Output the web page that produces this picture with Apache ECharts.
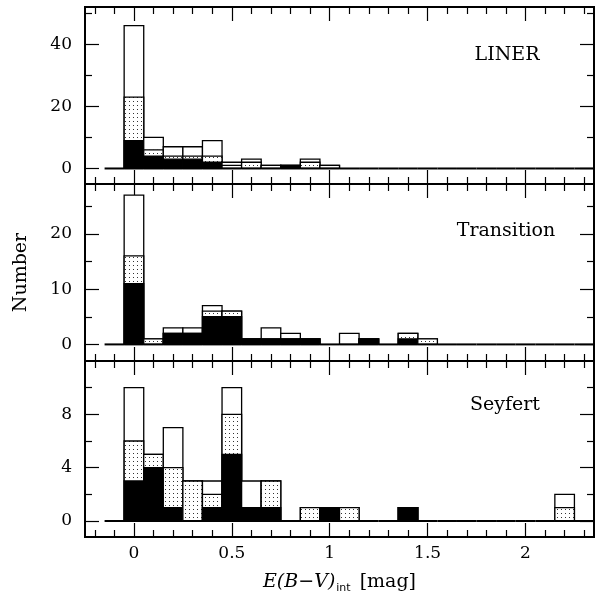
<!DOCTYPE html>
<html>
<head>
<meta charset="utf-8">
<script src="https://cdn.jsdelivr.net/npm/echarts@6/dist/echarts.min.js"></script>
<style>
html, body { margin: 0; padding: 0; background: #fff; }
#main { width: 602px; height: 601px; }
</style>
</head>
<body>
<div id="main"></div>
<script>
// bin centres, 0.1 mag wide
var binCentres = [-0.1, 0, 0.1, 0.2, 0.3, 0.4, 0.5, 0.6, 0.7, 0.8, 0.9, 1.0, 1.1, 1.2,
                  1.3, 1.4, 1.5, 1.6, 1.7, 1.8, 1.9, 2.0, 2.1, 2.2, 2.3];
var binWidth = 0.1;

// counts per bin: total (open), top of dotted part, black part
var linerTotal  = [0, 46, 10, 7, 7, 9, 2, 3, 1, 1, 3, 1, 0, 0, 0, 0, 0, 0, 0, 0, 0, 0, 0, 0, 0];
var linerDotted = [0, 23, 6, 4, 4, 4, 1, 2, 1, 1, 2, 1, 0, 0, 0, 0, 0, 0, 0, 0, 0, 0, 0, 0, 0];
var linerBlack  = [0, 9, 4, 3, 3, 2, 0, 0, 0, 1, 0, 0, 0, 0, 0, 0, 0, 0, 0, 0, 0, 0, 0, 0, 0];

var transTotal  = [0, 27, 1, 3, 3, 7, 6, 1, 3, 2, 1, 0, 2, 1, 0, 2, 1, 0, 0, 0, 0, 0, 0, 0, 0];
var transDotted = [0, 16, 1, 2, 2, 6, 6, 1, 1, 1, 1, 0, 0, 1, 0, 2, 1, 0, 0, 0, 0, 0, 0, 0, 0];
var transBlack  = [0, 11, 0, 2, 2, 5, 5, 1, 1, 1, 1, 0, 0, 1, 0, 1, 0, 0, 0, 0, 0, 0, 0, 0, 0];

var seyTotal  = [0, 10, 5, 7, 3, 3, 10, 3, 3, 0, 1, 1, 1, 0, 0, 1, 0, 0, 0, 0, 0, 0, 0, 2, 0];
var seyDotted = [0, 6, 5, 4, 3, 2, 8, 1, 3, 0, 1, 1, 1, 0, 0, 1, 0, 0, 0, 0, 0, 0, 0, 1, 0];
var seyBlack  = [0, 3, 4, 1, 0, 1, 5, 1, 1, 0, 0, 1, 0, 0, 0, 1, 0, 0, 0, 0, 0, 0, 0, 0, 0];

var panelNames = ['LINER', 'Transition', 'Seyfert'];

// ticks
var xMajor = [0, 0.5, 1, 1.5, 2];
var xMinor = [-0.2, -0.1, 0.1, 0.2, 0.3, 0.4, 0.6, 0.7, 0.8, 0.9, 1.1, 1.2, 1.3, 1.4,
              1.6, 1.7, 1.8, 1.9, 2.1, 2.2, 2.3];
var yMajor = [[0, 20, 40], [0, 10, 20], [0, 4, 8]];
var yMinor = [[10, 30, 50], [5, 15, 25], [2, 6, 10]];
var yRange = [[-5, 52], [-3, 29], [-1.2, 12]];

var panels = [
    [linerTotal, linerDotted, linerBlack],
    [transTotal, transDotted, transBlack],
    [seyTotal, seyDotted, seyBlack]
];

// layout
var plotLeft = 85, plotWidth = 509;
var panelTop = [7, 184, 361];
var panelHeight = [177, 177, 176];
var serif = 'DejaVu Serif';

var dotCanvas = document.createElement('canvas');
dotCanvas.width = 4;
dotCanvas.height = 4;
var dctx = dotCanvas.getContext('2d');
dctx.fillStyle = '#fff';
dctx.fillRect(0, 0, 4, 4);
dctx.fillStyle = '#333';
dctx.fillRect(1, 1, 1, 1);
var dotPattern = { image: dotCanvas, repeat: 'repeat' };

function renderBin(params, api) {
    var x = api.value(0), tot = api.value(1), dot = api.value(2), blk = api.value(3);
    var half = binWidth / 2;
    var p0 = api.coord([x - half, 0]);
    var p1 = api.coord([x + half, 0]);
    var kids = [];
    function box(v, fill) {
        var t = api.coord([x - half, v]);
        return {
            type: 'rect',
            shape: { x: p0[0], y: t[1], width: p1[0] - p0[0], height: p0[1] - t[1] },
            style: { fill: fill, stroke: '#000', lineWidth: 1.3 }
        };
    }
    if (tot > 0) kids.push(box(tot, '#fff'));
    if (dot > 0) kids.push(box(dot, dotPattern));
    if (blk > 0) kids.push(box(blk, '#000'));
    kids.push({
        type: 'line',
        shape: { x1: p0[0], y1: p0[1], x2: p1[0], y2: p0[1] },
        style: { stroke: '#000', lineWidth: 2 }
    });
    return { type: 'group', children: kids };
}

var grids = [], xAxes = [], yAxes = [], series = [], graphics = [];

for (var p = 0; p < 3; p++) {
    for (var k = 0; k < 2; k++) {
        var g = grids.length;
        grids.push({
            left: plotLeft, top: panelTop[p], width: plotWidth, height: panelHeight[p],
            show: k === 0, borderColor: '#000', borderWidth: 2,
            containLabel: false, outerBoundsMode: 'none'
        });
        ['bottom', 'top'].forEach(function (pos) {
            var ax = {
                type: 'value', gridIndex: g, position: pos,
                min: -0.25, max: 2.35,
                axisLine: { show: false, onZero: false },
                splitLine: { show: false },
                axisTick: {
                    show: true, inside: true, length: k === 0 ? 14 : 7,
                    customValues: k === 0 ? xMajor : xMinor,
                    lineStyle: { color: '#000', width: 1.2 }
                },
                axisLabel: {
                    show: p === 2 && k === 0 && pos === 'bottom',
                    customValues: xMajor, margin: 8,
                    color: '#000', fontFamily: serif, fontSize: 17
                }
            };
            if (p === 2 && k === 0 && pos === 'bottom') {
                ax.name = '{it|E(B\u2212V)}{sub|int}{rm| [mag]}';
                ax.nameLocation = 'middle';
                ax.nameGap = 33;
                ax.nameTextStyle = {
                    color: '#000',
                    rich: {
                        it: { fontFamily: serif, fontStyle: 'italic', fontSize: 19, color: '#000', lineHeight: 24 },
                        sub: { fontFamily: 'DejaVu Sans', fontSize: 11, color: '#000', verticalAlign: 'bottom', lineHeight: 24, padding: [12, 3, 0, 1] },
                        rm: { fontFamily: serif, fontSize: 19, color: '#000', lineHeight: 24 }
                    }
                };
            }
            xAxes.push(ax);
        });
        ['left', 'right'].forEach(function (pos) {
            var ay = {
                type: 'value', gridIndex: g, position: pos,
                min: yRange[p][0], max: yRange[p][1],
                axisLine: { show: false, onZero: false },
                splitLine: { show: false },
                axisTick: {
                    show: true, inside: true, length: k === 0 ? 14 : 7,
                    customValues: k === 0 ? yMajor[p] : yMinor[p],
                    lineStyle: { color: '#000', width: 1.2 }
                },
                axisLabel: {
                    show: k === 0 && pos === 'left',
                    customValues: yMajor[p], margin: 13,
                    color: '#000', fontFamily: serif, fontSize: 17
                }
            };
            if (p === 1 && k === 0 && pos === 'left') {
                ay.name = 'Number';
                ay.nameLocation = 'middle';
                ay.nameGap = 54;
                ay.nameRotate = 90;
                ay.nameTextStyle = { color: '#000', fontFamily: serif, fontSize: 19 };
            }
            yAxes.push(ay);
        });
        if (k === 0) {
            var data = binCentres.map(function (c, i) {
                return [c, panels[p][0][i], panels[p][1][i], panels[p][2][i]];
            });
            series.push({
                type: 'custom',
                xAxisIndex: xAxes.length - 2,
                yAxisIndex: yAxes.length - 2,
                renderItem: renderBin,
                encode: { x: 0, y: [1, 2, 3] },
                data: data,
                clip: true,
                silent: true
            });
        }
    }
}

var labelPos = [[507, 55], [506, 231], [505, 405]];
panelNames.forEach(function (name, i) {
    graphics.push({
        type: 'text', x: labelPos[i][0], y: labelPos[i][1],
        style: {
            text: name, fill: '#000', font: '19px "DejaVu Serif"',
            textAlign: 'center', textVerticalAlign: 'middle'
        }
    });
});

var chart = echarts.init(document.getElementById('main'), null, { renderer: 'canvas' });
chart.setOption({
    backgroundColor: '#fff',
    animation: false,
    grid: grids,
    xAxis: xAxes,
    yAxis: yAxes,
    series: series,
    graphic: graphics
});
</script>
</body>
</html>
